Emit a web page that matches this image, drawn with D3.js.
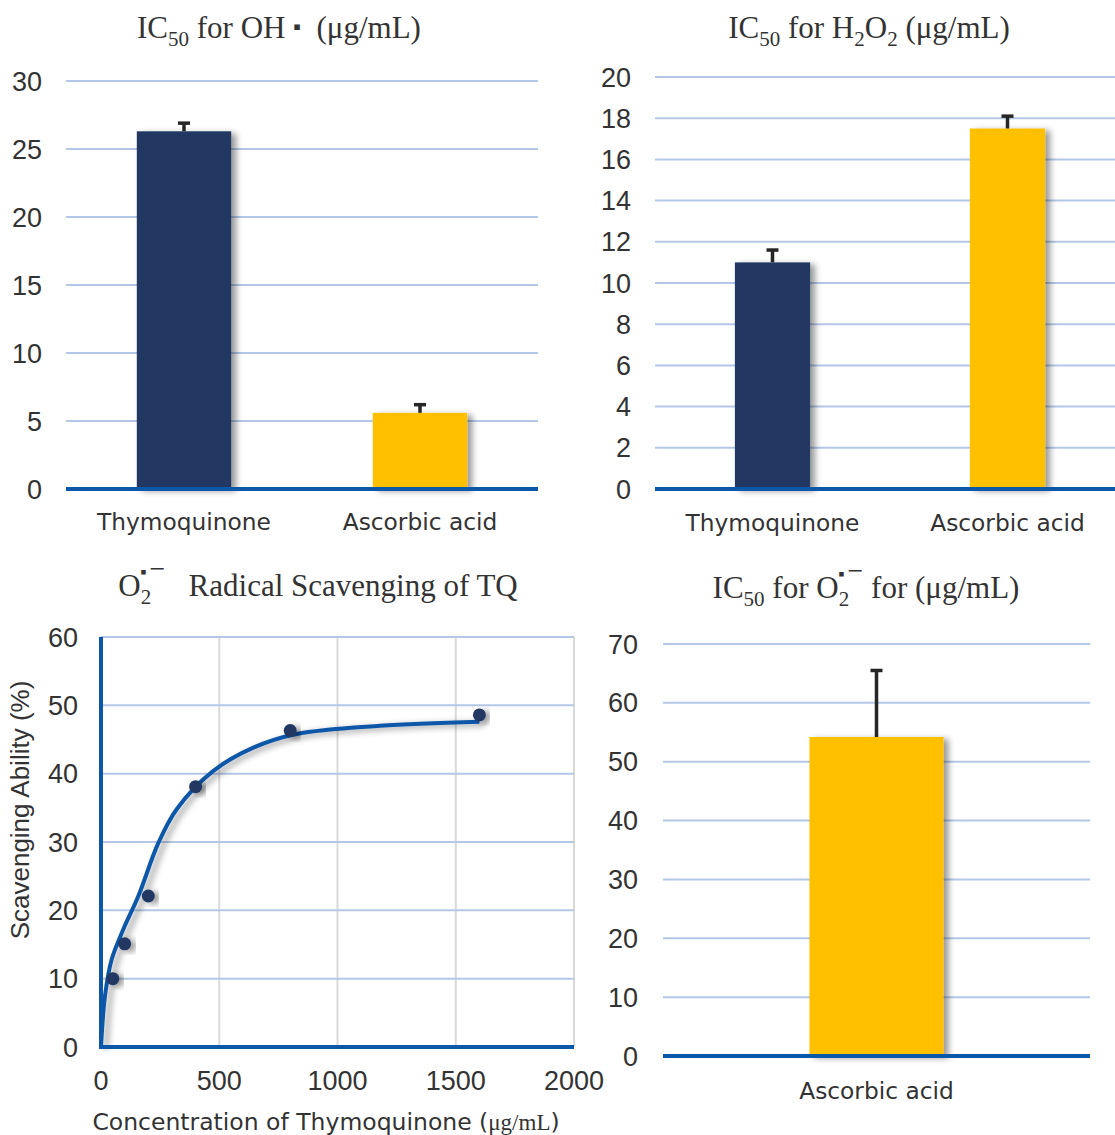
<!DOCTYPE html>
<html lang="en">
<head>
  <meta charset="UTF-8">
  <title>Thymoquinone radical scavenging</title>
  <script src="https://d3js.org/d3.v7.min.js"></script>
  <style>
    body { margin: 0; background: #fff; }
    .tick-label { font-family: "Liberation Sans", Arial, sans-serif; font-size: 27px; fill: #333; }
    .cat-label { font-family: "DejaVu Sans", Verdana, sans-serif; font-size: 23.3px; fill: #333; }
    .title { font-family: "Liberation Serif", "Times New Roman", serif; font-size: 31px; fill: #333; white-space: pre; }
  </style>
</head>
<body>
  <svg width="1115" height="1135"></svg>

  <script>
    // data
    const ohCategories = ["Thymoquinone", "Ascorbic acid"];
    const ohValues = [26.3, 5.6];
    const ohErrors = [0.6, 0.6];

    const h2o2Categories = ["Thymoquinone", "Ascorbic acid"];
    const h2o2Values = [11.0, 17.5];
    const h2o2Errors = [0.6, 0.6];

    const superCategories = ["Ascorbic acid"];
    const superValues = [54.2];
    const superErrors = [11.3];

    // O2- scavenging by TQ: measured points and the drawn trend curve
    const concentrations = [50, 100, 200, 400, 800, 1600];
    const scavenging = [10.0, 15.1, 22.1, 38.1, 46.3, 48.6];
    const curveX = [0, 17, 45, 94, 158, 243, 320, 475, 644, 827, 1180, 1600];
    const curveY = [0, 7.5, 12.8, 17.2, 22.1, 29.9, 34.8, 40.4, 43.8, 45.8, 47.0, 47.6];

    const navy = "#203864", gold = "#ffc000", axisBlue = "#0b57a8",
          gridBlue = "#b4c7e7", gridGray = "#d9d9d9", errColor = "#262626";

    const svg = d3.select("svg");

    // drop shadow like the office chart style
    const defs = svg.append("defs");
    defs.append("filter").attr("id", "shadow")
      .attr("x", "-20%").attr("y", "-20%").attr("width", "150%").attr("height", "150%")
      .append("feDropShadow")
      .attr("dx", 5).attr("dy", 2).attr("stdDeviation", 3)
      .attr("flood-color", "#000").attr("flood-opacity", 0.4);

    // text with sub/superscripts; parts = [text, dx, dy, size]
    function richText(g, x, y, parts) {
      const t = g.append("text").attr("class", "title")
        .attr("x", x).attr("y", y).attr("text-anchor", "middle");
      parts.forEach(p => {
        const s = t.append("tspan").text(p[0]);
        if (p[1]) s.attr("dx", p[1]);
        if (p[2]) s.attr("dy", p[2]);
        if (p[3]) s.attr("font-size", p[3]);
      });
      return t;
    }

    function barPanel(opt) {
      const g = svg.append("g");
      const y = d3.scaleLinear().domain(opt.yDomain).range([opt.bottom, opt.top]);
      const x = d3.scaleBand().domain(opt.categories).range([opt.left, opt.right]).padding(0);
      const bw = x.bandwidth() * opt.barFrac;

      // gridlines
      const ticks = d3.range(opt.yDomain[0], opt.yDomain[1] + 0.001, opt.step);
      g.selectAll(".grid").data(ticks.slice(1)).enter().append("line")
        .attr("x1", opt.left).attr("x2", opt.gridRight || opt.right)
        .attr("y1", d => y(d)).attr("y2", d => y(d))
        .attr("stroke", gridBlue).attr("stroke-width", 2);

      // y tick labels
      g.selectAll(".yl").data(ticks).enter().append("text")
        .attr("class", "tick-label")
        .attr("x", opt.labelX).attr("y", d => y(d) + 9.5)
        .attr("text-anchor", "end")
        .text(d => d);

      // bars
      g.selectAll(".bar").data(opt.values).enter().append("rect")
        .attr("x", (d, i) => x(opt.categories[i]) + (x.bandwidth() - bw) / 2)
        .attr("y", d => y(d))
        .attr("width", bw)
        .attr("height", d => y(0) - y(d))
        .attr("fill", (d, i) => opt.colors[i])
        .attr("filter", "url(#shadow)");

      // error bars (plus only)
      opt.values.forEach((v, i) => {
        const cx = x(opt.categories[i]) + x.bandwidth() / 2;
        g.append("line")
          .attr("x1", cx).attr("x2", cx)
          .attr("y1", y(v)).attr("y2", y(v + opt.errors[i]))
          .attr("stroke", errColor).attr("stroke-width", 3.5);
        g.append("line")
          .attr("x1", cx - 6).attr("x2", cx + 6)
          .attr("y1", y(v + opt.errors[i])).attr("y2", y(v + opt.errors[i]))
          .attr("stroke", errColor).attr("stroke-width", 3.5);
      });

      // baseline
      g.append("line")
        .attr("x1", opt.left).attr("x2", opt.gridRight || opt.right)
        .attr("y1", y(0)).attr("y2", y(0))
        .attr("stroke", axisBlue).attr("stroke-width", 4);

      // category labels
      g.selectAll(".cl").data(opt.categories).enter().append("text")
        .attr("class", "cat-label")
        .attr("x", d => x(d) + x.bandwidth() / 2)
        .attr("y", opt.catY)
        .attr("text-anchor", "middle")
        .text(d => d);
      return g;
    }

    // Panel 1: IC50 for OH radical
    const p1 = barPanel({
      categories: ohCategories, values: ohValues, errors: ohErrors,
      colors: [navy, gold], yDomain: [0, 30], step: 5,
      left: 66, right: 538, top: 81, bottom: 489, barFrac: 0.4,
      labelX: 42, catY: 530
    });
    richText(p1, 279, 38, [
      ["IC"], ["50", null, 8, "21px"], [" for OH ", null, -8], ["\u25AA", null, -4, "22px"],
      ["  (\u03BCg/mL)", null, 4]
    ]);

    // Panel 2: IC50 for H2O2
    const p2 = barPanel({
      categories: h2o2Categories, values: h2o2Values, errors: h2o2Errors,
      colors: [navy, gold], yDomain: [0, 20], step: 2,
      left: 655, right: 1125, gridRight: 1115, top: 77, bottom: 489, barFrac: 0.32,
      labelX: 631, catY: 531
    });
    richText(p2, 869, 38, [
      ["IC"], ["50", null, 8, "21px"], [" for H", null, -8], ["2", null, 8, "21px"],
      ["O", null, -8], ["2", null, 8, "21px"], [" (\u03BCg/mL)", null, -8]
    ]);

    // Panel 4: IC50 for superoxide
    const p4 = barPanel({
      categories: superCategories, values: superValues, errors: superErrors,
      colors: [gold], yDomain: [0, 70], step: 10,
      left: 663, right: 1090, top: 644, bottom: 1056, barFrac: 0.314,
      labelX: 638, catY: 1099
    });
    richText(p4, 866, 598, [
      ["IC"], ["50", null, 8, "21px"], [" for O", null, -8], ["2", null, 8, "21px"],
      ["\u25AA", -11, -26, "18px"], ["\u2212", 3, 0, "28px"], [" for (\u03BCg/mL)", null, 18]
    ]);

    // Panel 3: scatter with trend curve
    const p3 = svg.append("g");
    const sx = d3.scaleLinear().domain([0, 2000]).range([101, 574]);
    const sy = d3.scaleLinear().domain([0, 60]).range([1047, 637]);

    p3.selectAll(".vg").data(sx.ticks(4).slice(1)).enter().append("line")
      .attr("x1", d => sx(d)).attr("x2", d => sx(d))
      .attr("y1", sy(0)).attr("y2", sy(60))
      .attr("stroke", gridGray).attr("stroke-width", 2);
    p3.selectAll(".hg").data(d3.range(10, 61, 10)).enter().append("line")
      .attr("x1", sx(0)).attr("x2", sx(2000))
      .attr("y1", d => sy(d)).attr("y2", d => sy(d))
      .attr("stroke", gridBlue).attr("stroke-width", 2);

    p3.selectAll(".yl").data(d3.range(0, 61, 10)).enter().append("text")
      .attr("class", "tick-label")
      .attr("x", 78).attr("y", d => sy(d) + 9.5)
      .attr("text-anchor", "end").text(d => d);
    p3.selectAll(".xl").data(d3.range(0, 2001, 500)).enter().append("text")
      .attr("class", "tick-label")
      .attr("x", d => sx(d)).attr("y", 1090)
      .attr("text-anchor", "middle").text(d => d);

    const curve = curveX.map((c, i) => [c, curveY[i]]);
    p3.append("path")
      .datum(curve)
      .attr("d", d3.line().x(d => sx(d[0])).y(d => sy(d[1])).curve(d3.curveCatmullRom))
      .attr("fill", "none").attr("stroke", axisBlue).attr("stroke-width", 4)
      .attr("filter", "url(#shadow)");

    p3.selectAll(".dot").data(concentrations).enter().append("circle")
      .attr("cx", d => sx(d))
      .attr("cy", (d, i) => sy(scavenging[i]))
      .attr("r", 6.5)
      .attr("fill", navy)
      .attr("filter", "url(#shadow)");

    // axes lines
    p3.append("line").attr("x1", sx(0)).attr("x2", sx(2000))
      .attr("y1", sy(0)).attr("y2", sy(0))
      .attr("stroke", axisBlue).attr("stroke-width", 4);
    p3.append("line").attr("x1", sx(0)).attr("x2", sx(0))
      .attr("y1", sy(0) + 2).attr("y2", sy(60))
      .attr("stroke", axisBlue).attr("stroke-width", 4);

    // axis titles
    p3.append("text")
      .attr("transform", "translate(29,810) rotate(-90)")
      .attr("text-anchor", "middle")
      .style("font-family", "'Liberation Sans', Arial, sans-serif")
      .style("font-size", "26px").style("fill", "#333")
      .text("Scavenging Ability (%)");

    const xt = p3.append("text")
      .attr("x", 326).attr("y", 1130)
      .attr("text-anchor", "middle")
      .style("fill", "#333");
    xt.append("tspan").attr("class", "cat-label").style("font-size", "23.5px")
      .text("Concentration of Thymoquinone ");
    xt.append("tspan").attr("class", "cat-label").style("font-size", "23.5px").text("(");
    xt.append("tspan")
      .style("font-family", "'Liberation Serif', serif").style("font-size", "23px")
      .text("\u03BCg/mL");
    xt.append("tspan").attr("class", "cat-label").style("font-size", "23.5px").text(")");

    richText(p3, 318, 596, [
      ["O"], ["2", null, 8, "21px"], ["\u25AA", -11, -26, "18px"], ["\u2212", 3, 0, "28px"],
      ["   Radical Scavenging of TQ", null, 18]
    ]);
  </script>
</body>
</html>
